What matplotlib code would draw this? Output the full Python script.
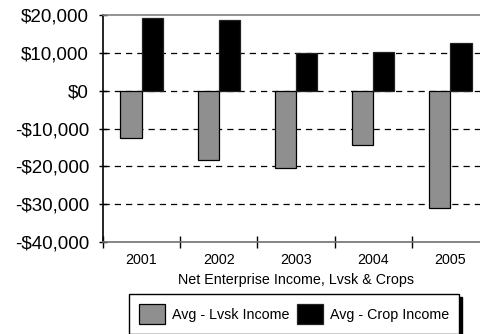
import matplotlib
matplotlib.use("Agg")
import matplotlib.pyplot as plt
import numpy as np
from matplotlib.ticker import FuncFormatter, FixedLocator

# Average net enterprise income by year
years = ["2001", "2002", "2003", "2004", "2005"]
lvsk_income = [-12500, -18300, -20400, -14300, -31000]
crop_income = [19100, 18600, 10000, 10300, 12500]
y_ticks = [-40000, -30000, -20000, -10000, 0, 10000, 20000]

plt.rcParams["font.family"] = ["Liberation Sans", "DejaVu Sans"]

W, H = 480, 334
fig = plt.figure(figsize=(W / 100, H / 100), dpi=100)
ax = fig.add_axes([103 / W, 1 - 242 / H, (489 - 103) / W, (242 - 15) / H])

x = np.arange(1, len(years) + 1)
bw = 0.275
b1 = ax.bar(x - bw / 2, lvsk_income, bw, color="#8f8f8f", edgecolor="black",
            linewidth=0.9, label="Avg - Lvsk Income", zorder=3)
b2 = ax.bar(x + bw / 2, crop_income, bw, color="black", edgecolor="#222222",
            linewidth=0.9, label="Avg - Crop Income", zorder=3)

ax.set_ylim(-40000, 20000)
ax.set_xlim(0.5, len(years) + 0.5)

ax.yaxis.set_major_locator(FixedLocator(y_ticks))
ax.yaxis.set_major_formatter(FuncFormatter(
    lambda v, p: ("-$" if v < 0 else "$") + f"{abs(int(v)):,}"))
ax.tick_params(axis="y", direction="inout", length=6, width=1, pad=7,
               labelsize=13.5, colors="black")

# year boundaries get tick marks, year names sit at the centres
ax.set_xticks(np.arange(0.5, len(years) + 1, 1.0))
ax.set_xticklabels([])
ax.set_xticks(x, minor=True)
ax.set_xticklabels(years, minor=True)
ax.tick_params(axis="x", which="major", direction="inout", length=9, width=1)
ax.tick_params(axis="x", which="minor", length=0, pad=8, labelsize=10.3)

for v in y_ticks[1:-1]:
    ax.axhline(v, color="black", linewidth=0.9, dashes=(5, 4), zorder=1)

ax.spines["left"].set_color("black")
ax.spines["bottom"].set_color("#707070")
ax.spines["top"].set_color("#808080")
ax.spines["right"].set_color("#808080")
for s in ax.spines.values():
    s.set_linewidth(1.2)

ax.set_xlabel("Net Enterprise Income, Lvsk & Crops", fontsize=10.3, labelpad=4)

leg = fig.legend(handles=[b1, b2], loc="upper left",
                 bbox_to_anchor=(129 / W, 1 - 294 / H), ncol=2,
                 fontsize=10.3, frameon=True, fancybox=False,
                 shadow={"color": "black", "alpha": 1.0},
                 handlelength=1.8, handleheight=1.75, handletextpad=0.5,
                 columnspacing=0.55, borderpad=0.7, borderaxespad=0)
leg.get_frame().set_edgecolor("black")
leg.get_frame().set_linewidth(1.0)

fig.savefig("out.png", dpi=100)
